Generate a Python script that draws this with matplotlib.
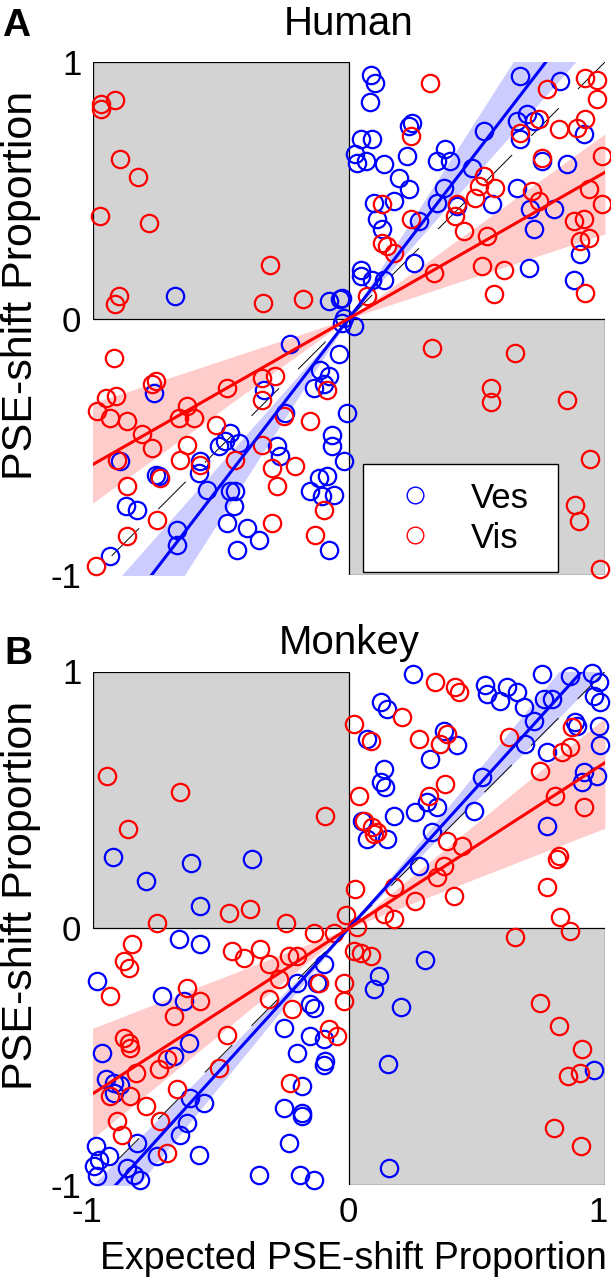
import matplotlib
matplotlib.use("Agg")
import matplotlib.pyplot as plt
import matplotlib.transforms as mtransforms
from matplotlib.patches import Rectangle
from matplotlib.lines import Line2D
import numpy as np

plt.rcParams['font.family'] = ['Liberation Sans', 'DejaVu Sans']
plt.rcParams['lines.scale_dashes'] = False

# ---------------- data ----------------
human_ves_x = [-0.680, -0.078, -0.033, -0.020, -0.026, 0.020,
               0.087, 0.104, 0.082, 0.670, 0.826, 0.026, 0.046, 0.091, 0.033, 0.069,
               0.137, 0.195, 0.234, 0.098, 0.176, 0.111, 0.130, 0.228, 0.234, 0.247,
               0.345, 0.377, 0.397, 0.481, 0.527, 0.371, 0.345, 0.423, 0.273, 0.559,
               0.657, 0.709, 0.722, 0.800, 0.852, 0.754, 0.670, 0.657, 0.696, 0.722,
               0.917, 0.254, 0.046, 0.046, 0.091, 0.137, 0.702, 0.878, 0.904,
               -0.228, -0.026, -0.761, -0.332, -0.111, -0.078, -0.098, -0.137, -0.039,
               -0.007, -0.247, -0.891, -0.754, -0.741, -0.871, -0.826, -0.579, -0.585,
               -0.507, -0.462, -0.481, -0.429, -0.280, -0.267, -0.553, -0.462, -0.442,
               -0.449, -0.475, -0.397, -0.351, -0.436, -0.670, -0.670, -0.930, -0.065,
               -0.065, -0.020, -0.117, -0.085, -0.150, -0.104, -0.059, -0.078]
human_ves_y = [0.087, 0.068, 0.077, 0.003, 0.081, -0.030,
               0.948, 0.917, 0.845, 0.945, 0.926, 0.640, 0.698, 0.698, 0.607, 0.614,
               0.601, 0.549, 0.503, 0.451, 0.458, 0.386, 0.347, 0.633, 0.750, 0.761,
               0.614, 0.659, 0.614, 0.588, 0.731, 0.510, 0.451, 0.438, 0.380, 0.445,
               0.510, 0.425, 0.347, 0.425, 0.601, 0.614, 0.698, 0.770, 0.796, 0.770,
               0.718, 0.217, 0.191, 0.165, 0.152, 0.152, 0.198, 0.152, 0.250,
               -0.101, -0.017, -0.290, -0.277, -0.199, -0.225, -0.257, -0.270, -0.140,
               -0.368, -0.368, -0.557, -0.609, -0.615, -0.732, -0.745, -0.557, -0.602,
               -0.498, -0.446, -0.479, -0.485, -0.498, -0.537, -0.667, -0.674, -0.674,
               -0.732, -0.797, -0.817, -0.862, -0.901, -0.823, -0.882, -0.927, -0.453,
               -0.498, -0.557, -0.622, -0.615, -0.674, -0.693, -0.687, -0.901]

human_vis_x = [-0.965, -0.965, -0.914, -0.891, -0.823, -0.969, -0.778, -0.306, -0.897,
               -0.914, -0.334, -0.178,
               0.319, 0.774, 0.923, 0.969, 0.969, 0.741, 0.670, 0.819, 0.891, 0.923,
               0.754, 0.988, 0.527, 0.507, 0.572, 0.494, 0.423, 0.416, 0.241, 0.241,
               0.130, 0.449, 0.540, 0.715, 0.741, 0.878, 0.917, 0.904, 0.936, 0.988,
               0.936, 0.130, 0.150, 0.176, 0.332, 0.520, 0.605, 0.566, 0.923, 0.072,
               -0.917, -0.949, -0.910, -0.982, -0.930, -0.865, -0.806, -0.767, -0.754,
               -0.767, -0.663, -0.631, -0.605, -0.520, -0.475, -0.338, -0.286, -0.338,
               -0.631, -0.657, -0.579, -0.735, -0.865, -0.904, -0.442, -0.338, -0.299,
               -0.280, -0.208, -0.254, -0.150, -0.085, -0.748, -0.865, -0.299, -0.130,
               -0.098, -0.988,
               0.325, 0.650, 0.555, 0.555, 0.852, 0.943, 0.882, 0.897, 0.979]
human_vis_y = [0.835, 0.815, 0.850, 0.623, 0.550, 0.399, 0.373, 0.210, 0.087,
               0.055, 0.059, 0.077,
               0.917, 0.896, 0.939, 0.930, 0.854, 0.776, 0.724, 0.737, 0.744, 0.776,
               0.627, 0.633, 0.555, 0.516, 0.510, 0.471, 0.445, 0.399, 0.386, 0.711,
               0.445, 0.341, 0.321, 0.497, 0.458, 0.380, 0.386, 0.302, 0.315, 0.445,
               0.503, 0.295, 0.282, 0.256, 0.178, 0.204, 0.191, 0.094, 0.100, 0.087,
               -0.153, -0.309, -0.303, -0.361, -0.387, -0.400, -0.452, -0.505, -0.244,
               -0.254, -0.387, -0.342, -0.387, -0.414, -0.270, -0.231, -0.225, -0.316,
               -0.492, -0.550, -0.570, -0.622, -0.654, -0.550, -0.550, -0.492, -0.583,
               -0.654, -0.576, -0.381, -0.400, -0.277, -0.784, -0.849, -0.797, -0.843,
               -0.745, -0.966,
               -0.114, -0.134, -0.270, -0.326, -0.319, -0.547, -0.726, -0.791, -0.977]

monkey_ves_x = [-0.921, -0.791, -0.614, -0.377, -0.579,
                0.251, 0.754, 0.865, 0.949, 0.533, 0.540, 0.618, 0.592, 0.657, 0.683,
                0.761, 0.793, 0.956, 0.975, 0.982, 0.722, 0.884, 0.891, 0.975, 0.982,
                0.689, 0.774, 0.124, 0.150, 0.371, 0.072, 0.423, 0.319, 0.137, 0.124,
                0.143, 0.520, 0.917, 0.969, 0.910, 0.260, 0.306, 0.345, 0.176, 0.488,
                0.052, 0.072, 0.150, 0.325, 0.774, 0.273,
                -0.982, -0.728, -0.644, -0.663, -0.579, -0.962, -0.949, -0.917, -0.891,
                -0.917, -0.683, -0.624, -0.618, -0.566, -0.631, -0.657, -0.826, -0.748,
                -0.585, -0.988, -0.975, -0.936, -0.995, -0.982, -0.865, -0.839, -0.813,
                -0.351, -0.189, -0.137, -0.234, -0.254, -0.182, -0.182, -0.182, -0.091,
                -0.098, -0.202, -0.150, -0.098, -0.254, -0.150, -0.137, -0.124, -0.098,
                -0.202,
                0.296, 0.117, 0.098, 0.204, 0.152, 0.956, 0.156]
monkey_ves_y = [0.276, 0.183, 0.254, 0.269, 0.085,
                0.991, 0.991, 0.984, 0.995, 0.948, 0.913, 0.939, 0.887, 0.919, 0.861,
                0.893, 0.893, 0.906, 0.958, 0.880, 0.809, 0.802, 0.789, 0.789, 0.714,
                0.718, 0.685, 0.880, 0.854, 0.770, 0.737, 0.714, 0.659, 0.620, 0.568,
                0.549, 0.588, 0.607, 0.594, 0.568, 0.451, 0.490, 0.471, 0.438, 0.458,
                0.419, 0.347, 0.347, 0.373, 0.399, 0.243,
                -0.205, -0.264, -0.283, -0.043, -0.062, -0.485, -0.589, -0.602, -0.609,
                -0.641, -0.498, -0.446, -0.661, -0.680, -0.758, -0.804, -0.836, -0.888,
                -0.882, -0.849, -0.901, -0.888, -0.927, -0.966, -0.934, -0.960, -0.979,
                -0.960, -0.960, -0.979, -0.836, -0.700, -0.719, -0.732, -0.615, -0.518,
                -0.531, -0.485, -0.420, -0.433, -0.387, -0.296, -0.309, -0.212, -0.140,
                -0.212,
                -0.124, -0.186, -0.238, -0.306, -0.527, -0.554, -0.934]

monkey_vis_x = [-0.945, -0.659, -0.862, -0.094, -0.748, -0.468, -0.384, -0.243,
                0.338, 0.416, 0.429, 0.208, 0.020, 0.085, 0.273, 0.358, 0.384, 0.624,
                0.871, 0.865, 0.832, 0.748, 0.806, 0.917, 0.039, 0.059, 0.091, 0.098,
                0.111, 0.312, 0.377, 0.384, 0.442, 0.371, 0.345, 0.176, 0.026, 0.260,
                0.410, 0.819, 0.813, 0.774, 0.826, 0.137, 0.176, -0.010,
                -0.845, -0.878, -0.858, -0.930, -0.631, -0.579, -0.683, -0.455, -0.410,
                -0.345, -0.312, -0.234, -0.202, -0.137, -0.059, -0.273, -0.312, -0.221,
                -0.117, -0.078, -0.046, -0.020, -0.020, -0.475, -0.878, -0.858, -0.852,
                -0.832, -0.741, -0.709, -0.507, -0.670, -0.852, -0.793, -0.930, -0.904,
                -0.884, -0.735, -0.709, -0.228,
                0.650, 0.862, 0.748, 0.819, 0.910, 0.856, 0.901, 0.800, 0.908, 0.033,
                0.046, 0.085, 0.020]
monkey_vis_y = [0.592, 0.532, 0.386, 0.438, 0.022, 0.061, 0.074, 0.022,
                0.958, 0.939, 0.919, 0.822, 0.796, 0.731, 0.737, 0.718, 0.757, 0.744,
                0.783, 0.705, 0.685, 0.614, 0.516, 0.471, 0.516, 0.419, 0.393, 0.367,
                0.373, 0.516, 0.562, 0.341, 0.321, 0.243, 0.198, 0.159, 0.152, 0.107,
                0.126, 0.282, 0.269, 0.159, 0.042, 0.055, 0.035, 0.050,
                -0.062, -0.127, -0.153, -0.264, -0.231, -0.283, -0.342, -0.088, -0.114,
                -0.082, -0.140, -0.108, -0.108, -0.017, -0.017, -0.199, -0.277, -0.316,
                -0.212, -0.394, -0.420, -0.212, -0.283, -0.414, -0.427, -0.446, -0.466,
                -0.563, -0.550, -0.511, -0.544, -0.628, -0.654, -0.693, -0.654, -0.752,
                -0.804, -0.752, -0.875, -0.602,
                -0.036, -0.010, -0.290, -0.381, -0.472, -0.576, -0.563, -0.778, -0.847,
                0.003, -0.095, -0.108, -0.088]

# regression slopes (through origin) and confidence-band slopes
human_slopes = {'Ves': (1.30, 1.13, 1.56), 'Vis': (0.57, 0.33, 0.72)}
monkey_slopes = {'Ves': (1.10, 1.00, 1.22), 'Vis': (0.645, 0.39, 0.82)}

panel_titles = ['Human', 'Monkey']
panel_letters = ['A', 'B']
ticks = [-1, 0, 1]
tick_labels = ['-1', '0', '1']

# ---------------- figure ----------------
W, H = 611, 1280
fig = plt.figure(figsize=(W / 100, H / 100), dpi=100)

def px_rect(l, t, r, b):
    return [l / W, 1 - b / H, (r - l) / W, (b - t) / H]

ax1 = fig.add_axes(px_rect(92.5, 62, 605, 575))
ax2 = fig.add_axes(px_rect(92.5, 671.5, 605, 1185))

BLUE = '#0000ff'
RED = '#ff0000'
GRAY = '#d3d3d3'

def draw_panel(ax, vesx, vesy, visx, visy, slopes, show_x):
    ax.set_xlim(-1, 1)
    ax.set_ylim(-1, 1)
    for s in ax.spines.values():
        s.set_visible(False)
    ax.add_patch(Rectangle((-1, 0), 1, 1, facecolor=GRAY, edgecolor='black', lw=0.9, zorder=0))
    ax.add_patch(Rectangle((0, -1), 1, 1, facecolor=GRAY, edgecolor='black', lw=0.9, zorder=0))
    xx = np.linspace(-1, 1, 201)
    ax.fill_between(xx, xx * slopes['Ves'][1], xx * slopes['Ves'][2],
                    color=BLUE, alpha=0.2, lw=0, zorder=1)
    ax.fill_between(xx, xx * slopes['Vis'][1], xx * slopes['Vis'][2],
                    color=RED, alpha=0.2, lw=0, zorder=1)
    ax.plot([-1, 1], [-1, 1], color='black', lw=0.7,
            linestyle=(28, (28, 19.5)), zorder=2)
    ax.plot(vesx, vesy, 'o', ms=12.5, mfc='none', mec=BLUE, mew=1.6,
            clip_on=False, zorder=3)
    ax.plot(visx, visy, 'o', ms=12.5, mfc='none', mec=RED, mew=1.6,
            clip_on=False, zorder=3)
    ax.plot(xx, xx * slopes['Ves'][0], color=BLUE, lw=2.2, zorder=4)
    ax.plot(xx, xx * slopes['Vis'][0], color=RED, lw=2.2, zorder=4)
    ax.set_yticks(ticks)
    ax.set_yticklabels(tick_labels)
    ax.set_xticks(ticks)
    ax.set_xticklabels([])
    ax.tick_params(length=0, labelsize=25, pad=8)
    if show_x:
        # x tick labels placed at the tick values, outer ones nudged inward
        shifts_px = [-6, 0, -7]
        trans = mtransforms.blended_transform_factory(ax.transData, ax.transAxes)
        for t, lab, sh in zip(ticks, tick_labels, shifts_px):
            tr = trans + mtransforms.ScaledTranslation(sh / 100, -8 / 72, fig.dpi_scale_trans)
            ax.text(t, 0, lab, transform=tr, ha='center', va='top', fontsize=25,
                    clip_on=False)

draw_panel(ax1, human_ves_x, human_ves_y, human_vis_x, human_vis_y, human_slopes, False)
draw_panel(ax2, monkey_ves_x, monkey_ves_y, monkey_vis_x, monkey_vis_y, monkey_slopes, True)

# legend in top panel
handles = [Line2D([], [], marker='o', ls='none', ms=12, mfc='none', mec=BLUE, mew=1.0),
           Line2D([], [], marker='o', ls='none', ms=12, mfc='none', mec=RED, mew=1.0)]
leg = ax1.legend(handles, ['Ves', 'Vis'], loc='lower left',
                 bbox_to_anchor=(0.528, 0.006, 0.38, 0.2), mode='expand',
                 borderaxespad=0, fontsize=25, frameon=True, fancybox=False,
                 edgecolor='black', framealpha=1, borderpad=0.5,
                 handlelength=2.0, handletextpad=0.6, labelspacing=0.2)
leg.get_frame().set_linewidth(1.0)
leg.set_zorder(5)

# texts
fig.text(349 / W, 1 - 35 / H, panel_titles[0], fontsize=29, ha='center', va='baseline')
fig.text(349 / W, 1 - 654 / H, panel_titles[1], fontsize=29, ha='center', va='baseline')
fig.text(2 / W, 1 - 36 / H, panel_letters[0], fontsize=28, fontweight='bold', ha='left', va='baseline')
fig.text(4 / W, 1 - 664 / H, panel_letters[1], fontsize=28, fontweight='bold', ha='left', va='baseline')
fig.text(21 / W, 1 - 285 / H, 'PSE-shift Proportion', fontsize=31, rotation=90,
         ha='center', va='center')
fig.text(21 / W, 1 - 895 / H, 'PSE-shift Proportion', fontsize=31, rotation=90,
         ha='center', va='center')
fig.text(353 / W, 1 - 1259 / H, 'Expected PSE-shift Proportion', fontsize=27,
         ha='center', va='center')

fig.savefig('out.png', dpi=100)
